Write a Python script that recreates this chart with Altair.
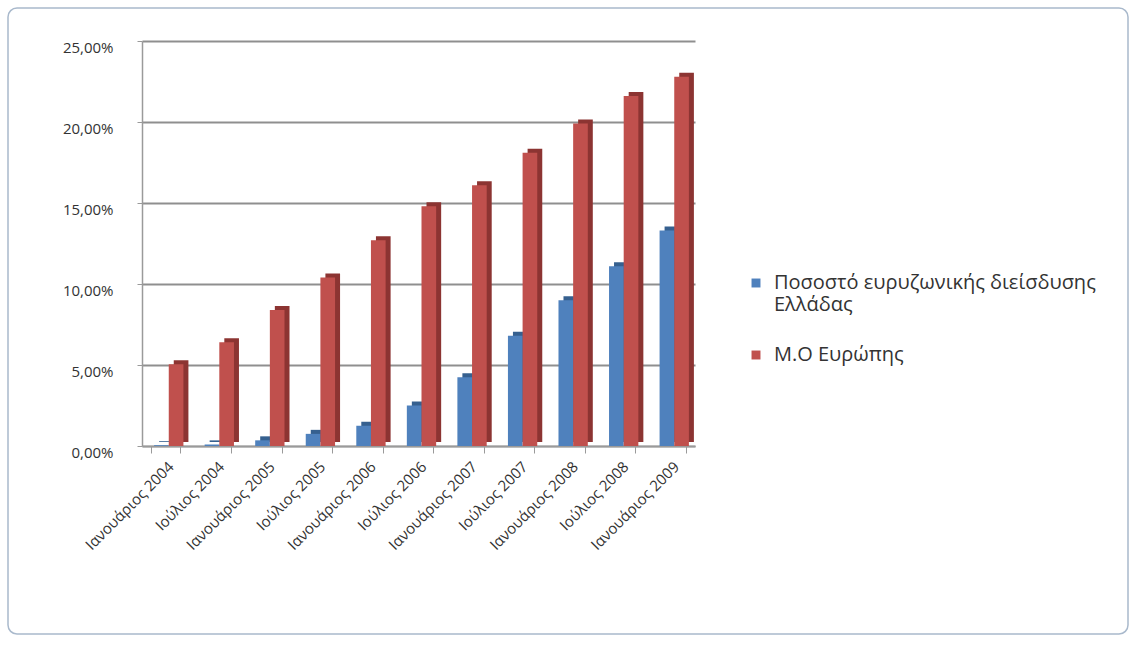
import altair as alt
import pandas as pd

categories = ["Ιανουάριος 2004", "Ιούλιος 2004", "Ιανουάριος 2005", "Ιούλιος 2005",
              "Ιανουάριος 2006", "Ιούλιος 2006", "Ιανουάριος 2007", "Ιούλιος 2007",
              "Ιανουάριος 2008", "Ιούλιος 2008", "Ιανουάριος 2009"]
greece = [0.0005, 0.001, 0.0035, 0.0075, 0.0125, 0.025, 0.0425, 0.068, 0.090, 0.111, 0.133]
europe = [0.0505, 0.064, 0.084, 0.104, 0.127, 0.148, 0.161, 0.181, 0.199, 0.216, 0.228]
series = ["Ποσοστό ευρυζωνικής διείσδυσης Ελλάδας", "Μ.Ο Ευρώπης"]
colors = ["#4F81BD", "#C0504D"]
side_colors = ["#36608F", "#8C3432"]

rows = []
for c, g, e in zip(categories, greece, europe):
    rows.append({"cat": c, "series": series[0], "value": g})
    rows.append({"cat": c, "series": series[1], "value": e})
df = pd.DataFrame(rows)

FONT = "Open Sans"
W, H = 553, 405
P_IN, P_OUT = 0.42, 0.18
step = W / (len(categories) - P_IN + 2 * P_OUT)
band = step * (1 - P_IN)
SHIFT = 3

x_enc = alt.X("cat:N", sort=categories, title=None,
              scale=alt.Scale(paddingInner=P_IN, paddingOuter=P_OUT),
              axis=alt.Axis(labelAngle=-45, labelFontSize=15, labelColor="#333333",
                            labelFont=FONT, domainColor="#9a9a9a", domainWidth=1.5,
                            tickColor="#9a9a9a", tickSize=7, labelPadding=6,
                            bandPosition=0, tickBand="extent"))
y_scale = alt.Scale(domain=[0, 0.25], nice=False)

base = alt.Chart(df)

shadow = base.mark_bar(yOffset=-4).encode(
    x=x_enc,
    xOffset=alt.XOffset("series:N", sort=series,
                        scale=alt.Scale(paddingInner=0, paddingOuter=0,
                                        range=[SHIFT + 5, SHIFT + 5 + band])),
    y=alt.Y("value:Q", scale=y_scale, title=None,
            axis=alt.Axis(values=[0, 0.05, 0.10, 0.15, 0.20, 0.25],
                          labelExpr="replace(format(datum.value, '.2%'), '.', ',')",
                          labelFontSize=15, labelColor="#333333", labelFont=FONT,
                          gridColor="#8f8f8f", gridWidth=1.8, domainColor="#9a9a9a",
                          domainWidth=1.5, tickColor="#9a9a9a", tickSize=5,
                          labelPadding=24, labelOffset=6)),
    color=alt.Color("series:N", sort=series,
                    scale=alt.Scale(domain=series, range=side_colors), legend=None),
)

front = base.mark_bar().encode(
    x=x_enc,
    xOffset=alt.XOffset("series:N", sort=series,
                        scale=alt.Scale(paddingInner=0, paddingOuter=0,
                                        range=[SHIFT, SHIFT + band])),
    y=alt.Y("value:Q", scale=y_scale),
    fill=alt.Fill("series:N", sort=series,
                  scale=alt.Scale(domain=series, range=colors),
                  legend=alt.Legend(title=None, orient="none", legendX=604, legendY=232,
                                    symbolType="square", symbolSize=80,
                                    labelFontSize=20, labelFont=FONT, labelColor="#333333",
                                    rowPadding=30, labelLimit=500, labelOffset=8,
                                    labelExpr="datum.label == 'Ποσοστό ευρυζωνικής διείσδυσης Ελλάδας' ? ['Ποσοστό ευρυζωνικής διείσδυσης', 'Ελλάδας'] : datum.label")),
)

border = alt.Chart(pd.DataFrame({"a": [0]})).mark_rect(
    fill=None, stroke="#A9B9CC", strokeWidth=1.5, cornerRadius=9
).encode(x=alt.value(-134), x2=alt.value(986), y=alt.value(-33), y2=alt.value(593))

chart = alt.layer(border, shadow, front).resolve_scale(
    color="independent", fill="independent", xOffset="independent"
).properties(
    width=W, height=H,
    autosize=alt.AutoSizeParams(type="none"),
    padding={"left": 142, "top": 41, "right": 1136 - 142 - W, "bottom": 200},
    background="white",
).configure_view(stroke=None)

chart.save("out.html", embed_options={"renderer": "svg", "actions": False})
